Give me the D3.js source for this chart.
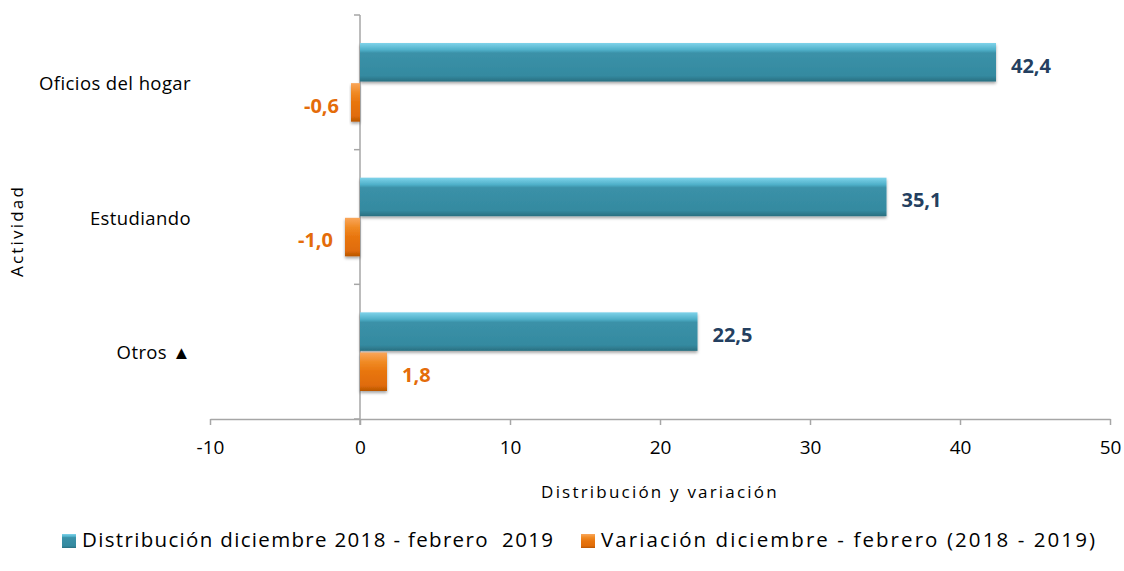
<!DOCTYPE html>
<html>
<head>
<meta charset="utf-8">
<script src="https://cdn.jsdelivr.net/npm/d3@7"></script>
<style>
  body { margin: 0; background: #fff; }
  text { font-family: "Open Sans", sans-serif; white-space: pre; }
</style>
</head>
<body>
<div id="chart"></div>
<script>
// chart data
var categories = ["Oficios del hogar", "Estudiando", "Otros \u25B2"];
var distribucion = [42.4, 35.1, 22.5];
var variacion = [-0.6, -1.0, 1.8];
var xTicks = [-10, 0, 10, 20, 30, 40, 50];
var seriesNames = ["Distribución diciembre 2018 - febrero  2019", "Variación diciembre - febrero (2018 - 2019)"];

var width = 1124, height = 571;
var plot = {left: 210, right: 1110, top: 15, bottom: 419};

var svg = d3.select("#chart").append("svg")
   .attr("width", width).attr("height", height);

// gradients for the bevelled bars
var defs = svg.append("defs");
function bevel(id, stops) {
   var g = defs.append("linearGradient").attr("id", id)
      .attr("x1", 0).attr("y1", 0).attr("x2", 0).attr("y2", 1);
   stops.forEach(function(s){ g.append("stop").attr("offset", s[0]).attr("stop-color", s[1]); });
}
bevel("gTeal", [[0, "#7fd3ea"], [0.18, "#4fb0c9"], [0.26, "#3b91a8"], [0.85, "#348aa0"], [1, "#2a6f80"]]);
bevel("gOrange", [[0, "#f9a65a"], [0.25, "#f08a24"], [0.5, "#e8750e"], [0.85, "#e06c08"], [1, "#b85604"]]);
var shadow = defs.append("filter").attr("id", "shadow").attr("x", "-20%").attr("y", "-20%").attr("width", "140%").attr("height", "160%");
shadow.append("feDropShadow").attr("dx", 0).attr("dy", 2).attr("stdDeviation", 1.5).attr("flood-color", "#000").attr("flood-opacity", 0.35);

var x = d3.scaleLinear().domain([-10, 50]).range([plot.left, plot.right]);
var y = d3.scaleBand().domain(categories).range([plot.top, plot.bottom]);
var inner = d3.scaleBand().domain([0, 1]).range([28, y.bandwidth() - 28]).paddingInner(0.04);

// x axis
var xAxis = d3.axisBottom(x).tickValues(xTicks).tickSize(6).tickSizeOuter(0);
var gx = svg.append("g").attr("transform", "translate(0," + plot.bottom + ")").call(xAxis);
gx.select(".domain").attr("stroke", "#a6a6a6").attr("stroke-width", 1.5);
gx.selectAll(".tick line").attr("stroke", "#a6a6a6").attr("stroke-width", 1.5);
gx.selectAll(".tick text").attr("dy", 0).attr("y", 35)
   .style("font-size", "19px").style("font-family", "'Open Sans', sans-serif").attr("fill", "#000")
   .text(function(d){ return d; });

// y axis at zero
var gy = svg.append("g").attr("transform", "translate(" + x(0) + ",0)");
gy.append("line").attr("y1", plot.top).attr("y2", plot.bottom + 6)
   .attr("stroke", "#a6a6a6").attr("stroke-width", 1.5);
var bounds = categories.map(function(c){ return y(c); }).concat([plot.bottom]);
gy.selectAll(".ytick").data(bounds).enter().append("line")
   .attr("x1", -6).attr("x2", 0)
   .attr("y1", function(d){ return d; }).attr("y2", function(d){ return d; })
   .attr("stroke", "#a6a6a6").attr("stroke-width", 1.5);

// category labels
svg.selectAll(".cat").data(categories).enter().append("text")
   .attr("x", 191).attr("y", function(d){ return y(d) + 70; })
   .attr("text-anchor", "end").attr("dominant-baseline", "middle")
   .style("font-size", "18.5px").style("letter-spacing", "0.4px").text(function(d){ return d; });

// bars
function bars(values, idx, fill, color) {
   var g = svg.append("g");
   g.selectAll("rect").data(values).enter().append("rect")
      .attr("x", function(d){ return x(Math.min(0, d)); })
      .attr("width", function(d){ return Math.abs(x(d) - x(0)); })
      .attr("y", function(d, i){ return y(categories[i]) + inner(idx); })
      .attr("height", inner.bandwidth())
      .attr("fill", "url(#" + fill + ")")
      .attr("filter", "url(#shadow)");
   g.selectAll("text").data(values).enter().append("text")
      .attr("x", function(d){ return d < 0 ? x(d) - 12 : x(d) + 15; })
      .attr("y", function(d, i){ return y(categories[i]) + inner(idx) + inner.bandwidth() / 2 + 5; })
      .attr("text-anchor", function(d){ return d < 0 ? "end" : "start"; })
      .attr("dominant-baseline", "middle")
      .attr("fill", color).style("font-size", "20px").style("font-weight", "bold")
      .text(function(d){ return d3.format(".1f")(d).replace(".", ",").replace("\u2212", "-"); });
}
bars(distribucion, 0, "gTeal", "#243f60");
bars(variacion, 1, "gOrange", "#e46c0a");

// axis titles
svg.append("text").attr("x", 660).attr("y", 493).attr("text-anchor", "middle")
   .attr("dominant-baseline", "middle")
   .style("font-size", "17px").style("letter-spacing", "2.2px").text("Distribución y variación");
svg.append("text").attr("transform", "translate(18,231) rotate(-90)").attr("text-anchor", "middle")
   .attr("dominant-baseline", "middle")
   .style("font-size", "17px").style("letter-spacing", "2.2px").text("Actividad");

// legend
var legend = svg.append("g");
var lx = [62, 581];
var lw = [471, 494];
seriesNames.forEach(function(name, i){
   legend.append("rect").attr("x", lx[i]).attr("y", 534).attr("width", 14).attr("height", 14)
      .attr("fill", "url(#" + (i === 0 ? "gTeal" : "gOrange") + ")");
   legend.append("text").attr("x", lx[i] + 20).attr("y", 542).attr("dominant-baseline", "middle")
      .attr("textLength", lw[i]).attr("lengthAdjust", "spacing")
      .style("font-size", "20.5px").text(name);
});
</script>
</body>
</html>
